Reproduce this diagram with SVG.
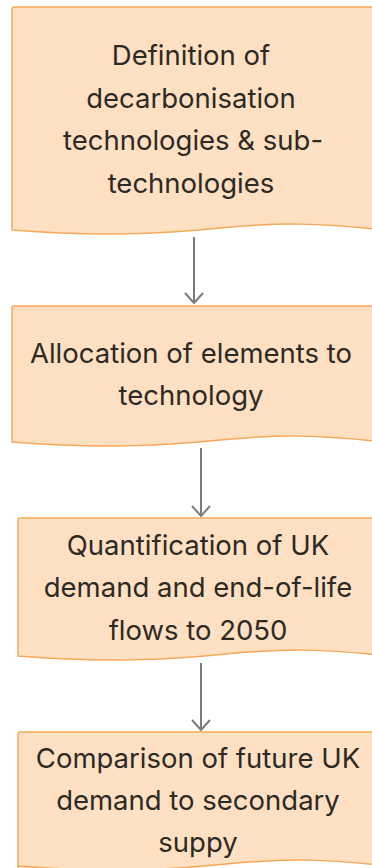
<svg xmlns="http://www.w3.org/2000/svg" width="372" height="868" viewBox="0 0 372 868">
  <style>
    .doc { fill: #ffe0c2; stroke: #f6a858; stroke-width: 1.5; }
    .lbl { font-family: Inter, "Noto Sans", "Liberation Sans", sans-serif; font-size: 27.5px; fill: #2d2a26; text-anchor: middle; }
    .edge { fill: none; stroke: #7b7b7b; stroke-width: 2; }
  </style>
  <defs>
    <!-- open chevron head, drawn along +x so orient="auto" follows the line -->
    <marker id="arrow" viewBox="0 0 12 20" refX="11" refY="10" markerWidth="12" markerHeight="20" markerUnits="userSpaceOnUse" orient="auto">
      <path d="M1,1 L11,10 L1,19" fill="none" stroke="#7b7b7b" stroke-width="2"/>
    </marker>
  </defs>

  <g id="connectors">
    <path class="edge" d="M194,237 L194,303" marker-end="url(#arrow)"/>
    <path class="edge" d="M201,448 L201,516" marker-end="url(#arrow)"/>
    <path class="edge" d="M201,663 L201,730" marker-end="url(#arrow)"/>
  </g>

  <g id="definition">
    <path class="doc" d="M12,230 L12,9 Q12,7 14,7 L384,7 L384,230 C320,223 280,222 220,228 C160,234 100,237 12,230 Z"/>
    <text class="lbl" x="191" y="65">Definition of</text>
    <text class="lbl" x="191" y="108">decarbonisation</text>
    <text class="lbl" x="193" y="150">technologies &amp; sub-</text>
    <text class="lbl" x="191" y="193">technologies</text>
  </g>

  <g id="allocation">
    <path class="doc" d="M12,442 L12,308 Q12,306 14,306 L384,306 L384,442 C320,435 280,434 220,440 C160,446 100,449 12,442 Z"/>
    <text class="lbl" x="191" y="363">Allocation of elements to</text>
    <text class="lbl" x="191" y="405">technology</text>
  </g>

  <g id="quantification">
    <path class="doc" d="M18,656 L18,520 Q18,518 20,518 L390,518 L390,656 C326,649 286,648 226,654 C166,660 106,663 18,656 Z"/>
    <text class="lbl" x="198" y="555">Quantification of UK</text>
    <text class="lbl" x="198" y="597">demand and end-of-life</text>
    <text class="lbl" x="198" y="640">flows to 2050</text>
  </g>

  <g id="comparison">
    <path class="doc" d="M18,880 L18,734 Q18,732 20,732 L390,732 L390,866 C326,859 286,858 226,864 C166,870 106,873 18,866 Z"/>
    <text class="lbl" x="198" y="768">Comparison of future UK</text>
    <text class="lbl" x="198" y="810">demand to secondary</text>
    <text class="lbl" x="198" y="852">suppy</text>
  </g>
</svg>
